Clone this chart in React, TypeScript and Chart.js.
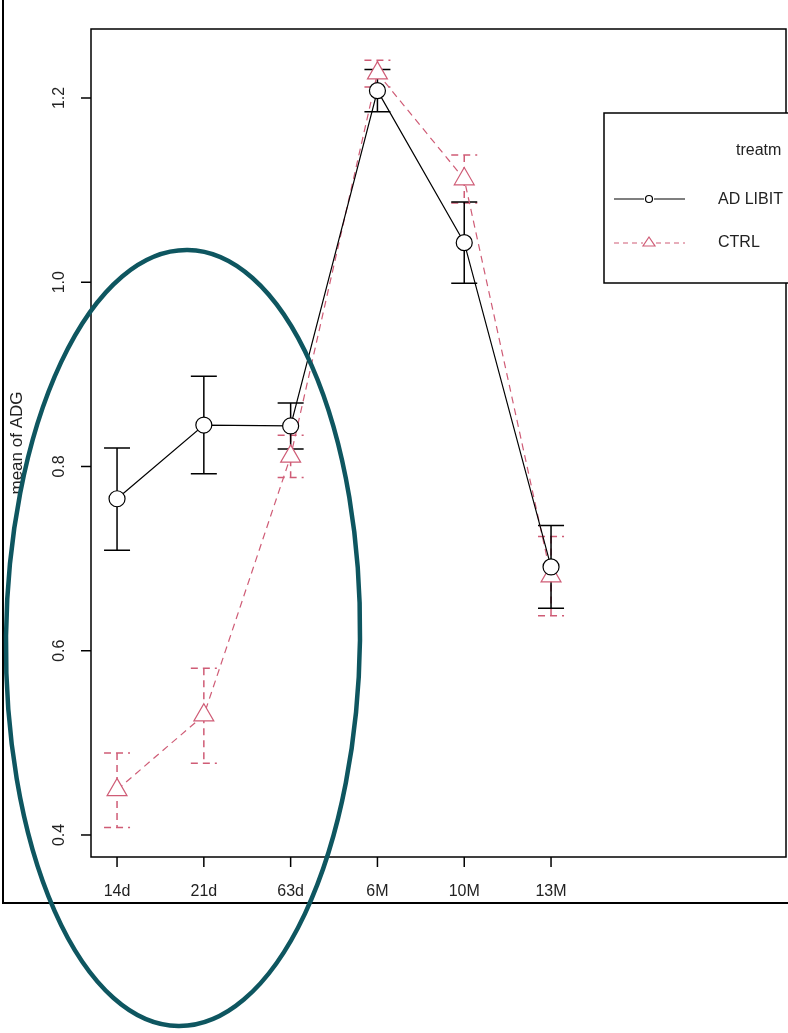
import React, { useEffect, useRef } from 'react';
import { Chart, registerables } from 'chart.js';

Chart.register(...registerables);

// ---- data ----
const categories = ['14d', '21d', '63d', '6M', '10M', '13M'];
const adLibMean = [0.765, 0.845, 0.844, 1.208, 1.043, 0.691];
const adLibLow = [0.709, 0.792, 0.819, 1.185, 0.999, 0.646];
const adLibHigh = [0.820, 0.898, 0.869, 1.231, 1.087, 0.736];
const ctrlMean = [0.449, 0.530, 0.811, 1.227, 1.112, 0.681];
const ctrlLow = [0.408, 0.478, 0.788, 1.212, 1.086, 0.638];
const ctrlHigh = [0.489, 0.581, 0.834, 1.241, 1.138, 0.724];
const yTicks = [0.4, 0.6, 0.8, 1.0, 1.2];
const yTickLabels = ['0.4', '0.6', '0.8', '1.0', '1.2'];
const seriesNames = ['AD LIBIT', 'CTRL'];
const legendTitle = 'treatm';
const yTitle = 'mean of ADG';

// ---- styles ----
const W = 788;
const H = 1033;
const BLACK = '#000000';
const RED = '#CF5C76';
const TEAL = '#0E5660';
const TEXT = '#222222';
const FONT = '"Liberation Sans", Arial, sans-serif';
const DASH = [7, 5];

const decor = {
  id: 'decor',
  beforeDraw(chart: any) {
    const ctx = chart.ctx;
    ctx.save();
    ctx.fillStyle = '#ffffff';
    ctx.fillRect(0, 0, chart.width, chart.height);
    ctx.restore();
  },
  beforeDatasetsDraw(chart: any) {
    const ctx = chart.ctx;
    const xs = chart.scales.x;
    const ys = chart.scales.y;
    const bars = [
      { lo: ctrlLow, hi: ctrlHigh, color: RED, dash: DASH },
      { lo: adLibLow, hi: adLibHigh, color: BLACK, dash: [] as number[] },
    ];
    const cap = 13;
    ctx.save();
    bars.forEach((b) => {
      ctx.strokeStyle = b.color;
      ctx.lineWidth = 1.5;
      ctx.setLineDash(b.dash);
      b.lo.forEach((lo, i) => {
        const x = xs.getPixelForValue(i);
        const yl = ys.getPixelForValue(lo);
        const yh = ys.getPixelForValue(b.hi[i]);
        ctx.beginPath();
        ctx.moveTo(x, yh);
        ctx.lineTo(x, yl);
        ctx.moveTo(x - cap, yh);
        ctx.lineTo(x + cap, yh);
        ctx.moveTo(x - cap, yl);
        ctx.lineTo(x + cap, yl);
        ctx.stroke();
      });
    });
    ctx.restore();
  },
  afterDraw(chart: any) {
    const ctx = chart.ctx;
    const xs = chart.scales.x;
    const ys = chart.scales.y;
    const { left, right, top, bottom } = chart.chartArea;
    ctx.save();

    // plot box
    ctx.strokeStyle = BLACK;
    ctx.lineWidth = 1.5;
    ctx.setLineDash([]);
    ctx.strokeRect(left, top, right - left, bottom - top);

    // y ticks + labels
    ctx.fillStyle = TEXT;
    ctx.font = `16px ${FONT}`;
    ctx.textAlign = 'center';
    ctx.textBaseline = 'middle';
    yTicks.forEach((v, i) => {
      const y = ys.getPixelForValue(v);
      ctx.beginPath();
      ctx.moveTo(left - 10, y);
      ctx.lineTo(left, y);
      ctx.stroke();
      ctx.save();
      ctx.translate(60, y);
      ctx.rotate(-Math.PI / 2);
      ctx.fillText(yTickLabels[i], 0, 0);
      ctx.restore();
    });

    // x ticks + labels
    categories.forEach((c, i) => {
      const x = xs.getPixelForValue(i);
      ctx.beginPath();
      ctx.moveTo(x, bottom);
      ctx.lineTo(x, bottom + 10);
      ctx.stroke();
      ctx.fillText(c, x, 892);
    });

    // y title
    ctx.save();
    ctx.font = `17px ${FONT}`;
    ctx.translate(17, (top + bottom) / 2);
    ctx.rotate(-Math.PI / 2);
    ctx.fillText(yTitle, 0, 0);
    ctx.restore();

    // legend
    const lx = 604, ly = 113, lh = 170;
    ctx.fillStyle = '#ffffff';
    ctx.fillRect(lx, ly, W + 10 - lx, lh);
    ctx.strokeStyle = BLACK;
    ctx.lineWidth = 1.5;
    ctx.strokeRect(lx, ly, W + 10 - lx, lh);
    ctx.fillStyle = TEXT;
    ctx.font = `16px ${FONT}`;
    ctx.textAlign = 'left';
    ctx.fillText(legendTitle, 736, 151);
    ctx.fillText(seriesNames[0], 718, 200);
    ctx.fillText(seriesNames[1], 718, 243);
    // sample lines
    ctx.lineWidth = 1.2;
    ctx.strokeStyle = BLACK;
    ctx.beginPath();
    ctx.moveTo(614, 199);
    ctx.lineTo(644, 199);
    ctx.moveTo(654, 199);
    ctx.lineTo(685, 199);
    ctx.stroke();
    ctx.beginPath();
    ctx.arc(649, 199, 3.5, 0, Math.PI * 2);
    ctx.stroke();
    ctx.strokeStyle = RED;
    ctx.setLineDash([5, 4]);
    ctx.beginPath();
    ctx.moveTo(614, 243);
    ctx.lineTo(643, 243);
    ctx.moveTo(656, 243);
    ctx.lineTo(685, 243);
    ctx.stroke();
    ctx.setLineDash([]);
    ctx.beginPath();
    ctx.moveTo(649, 237);
    ctx.lineTo(655, 246);
    ctx.lineTo(643, 246);
    ctx.closePath();
    ctx.stroke();

    // outer frame
    ctx.strokeStyle = BLACK;
    ctx.lineWidth = 2;
    ctx.beginPath();
    ctx.moveTo(3, 0);
    ctx.lineTo(3, 903);
    ctx.lineTo(W, 903);
    ctx.stroke();

    // highlight ellipse
    ctx.strokeStyle = TEAL;
    ctx.lineWidth = 4.5;
    ctx.beginPath();
    ctx.ellipse(183, 638, 177, 388, 0.012, 0, Math.PI * 2);
    ctx.stroke();

    ctx.restore();
  },
};

export default function App() {
  const ref = useRef<HTMLCanvasElement | null>(null);
  useEffect(() => {
    if (!ref.current) return;
    const chart = new Chart(ref.current, {
      type: 'scatter',
      data: {
        datasets: [
          {
            label: seriesNames[0],
            data: categories.map((_, i) => ({ x: i, y: adLibMean[i] })),
            showLine: true,
            borderColor: BLACK,
            borderWidth: 1.2,
            pointStyle: 'circle',
            pointRadius: 8,
            pointBackgroundColor: '#ffffff',
            pointBorderColor: BLACK,
            pointBorderWidth: 1.2,
          },
          {
            label: seriesNames[1],
            data: categories.map((_, i) => ({ x: i, y: ctrlMean[i] })),
            showLine: true,
            borderColor: RED,
            borderWidth: 1.2,
            borderDash: DASH,
            pointStyle: 'triangle',
            pointRadius: 11.5,
            pointBackgroundColor: '#ffffff',
            pointBorderColor: RED,
            pointBorderWidth: 1.2,
          },
        ],
      },
      options: {
        animation: false,
        responsive: false,
        devicePixelRatio: 1,
        layout: { autoPadding: false, padding: { left: 91, top: 29, right: 2, bottom: 176 } },
        scales: {
          x: { type: 'linear', display: false, min: -0.3, max: 7.707 },
          y: { type: 'linear', display: false, min: 0.3761, max: 1.2749 },
        },
        plugins: { legend: { display: false }, tooltip: { enabled: false } },
      },
      plugins: [decor],
    } as any);
    return () => chart.destroy();
  }, []);
  return (
    <div style={{ position: 'fixed', left: 0, top: 0, width: W, height: H }}>
      <canvas ref={ref} width={W} height={H} style={{ width: W, height: H, display: 'block' }} />
    </div>
  );
}
